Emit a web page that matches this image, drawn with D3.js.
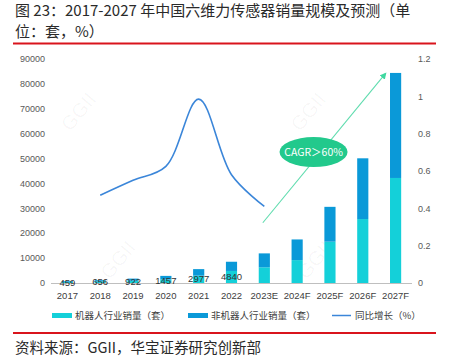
<!DOCTYPE html>
<html><head><meta charset="utf-8">
<script src="https://cdn.jsdelivr.net/npm/d3@7/dist/d3.min.js"></script>
<style>
body{margin:0;background:#fff;}
svg{display:block;}
</style></head>
<body><svg id="c" width="453" height="360"></svg>
<script>
const categories = ["2017","2018","2019","2020","2021","2022","2023E","2024F","2025F","2026F","2027F"];
const robotSales = [459,656,922,1457,2977,4840,6300,9200,16600,25700,42200];
const nonRobotSales = [310,480,840,1400,2600,3700,5600,8300,14000,24400,42200];
const growth = [null,0.47,0.55,0.625,0.985,0.58,0.41,null,null,null,null];
const robotLabels = ["459","656","922","1457","2977","4840"];
const leftTicks = [0,10000,20000,30000,40000,50000,60000,70000,80000,90000];
const rightTicks = [0,0.2,0.4,0.6,0.8,1,1.2];
const legendLabels = ["机器人行业销量（套）","非机器人行业销量（套）","同比增长（%）"];
const titleLines = ["图 23：2017-2027 年中国六维力传感器销量规模及预测（单","位：套，%）"];
const sourceText = "资料来源：GGII，华宝证券研究创新部";
const cagrText = "CAGR＞60%";

const cLight = "#14d0d9", cDark = "#0a99d8", cLine = "#3b86d9", cGreen = "#22c98c";
const numFont = "'Liberation Sans', Arial, 'Noto Sans CJK SC', sans-serif";
const cjkFont = "'Noto Sans CJK SC', 'Liberation Sans', sans-serif";

const svg = d3.select("#c");
const L = 51, R = 412, T = 59, B = 283;
const x = d3.scaleBand().domain(categories).range([L, R]).paddingInner(0.66).paddingOuter(0.33);
const y = d3.scaleLinear().domain([0, 90000]).range([B, T]);
const y2 = d3.scaleLinear().domain([0, 1.2]).range([B, T]);
const cx = c => x(c) + x.bandwidth() / 2;

// title
svg.append("g").selectAll("text").data(titleLines).join("text")
  .attr("x", 15).attr("y", (d, i) => 16 + i * 21)
  .attr("font-family", cjkFont).attr("font-size", 15).attr("fill", "#2a2a2a")
  .text(d => d);
svg.append("line").attr("x1", 13).attr("x2", 436).attr("y1", 43.5).attr("y2", 43.5)
  .attr("stroke", "#d9141c").attr("stroke-width", 2);
svg.append("line").attr("x1", 13).attr("x2", 436).attr("y1", 333).attr("y2", 333)
  .attr("stroke", "#d9141c").attr("stroke-width", 2);
svg.append("text").attr("x", 15).attr("y", 353)
  .attr("font-family", cjkFont).attr("font-size", 14.5).attr("fill", "#2a2a2a").text(sourceText);

// watermarks
const wm = [["2017",0.5,67000],["2025F",-0.5,67000],["2019",-0.3,7500],["2025F",-0.3,7500]];
svg.append("g").selectAll("text").data(wm).join("text")
  .attr("transform", d => `translate(${cx(d[0]) + d[1]*x.step()},${y(d[2])}) rotate(-50)`)
  .attr("text-anchor", "middle").attr("font-family", numFont).attr("font-size", 20)
  .attr("fill", "#000").attr("fill-opacity", 0.035).text("GGII");

// left axis labels
svg.append("g").selectAll("text").data(leftTicks).join("text")
  .attr("x", 45).attr("y", d => y(d) + 3.2).attr("text-anchor", "end")
  .attr("font-family", numFont).attr("font-size", 9).attr("fill", "#595959").text(d => d);
// right axis labels
svg.append("g").selectAll("text").data(rightTicks).join("text")
  .attr("x", 418).attr("y", d => y2(d) + 3.2).attr("text-anchor", "start")
  .attr("font-family", numFont).attr("font-size", 9).attr("fill", "#595959").text(d => d);

// bars
const stacked = categories.map((c, i) => ({c, r: robotSales[i], n: nonRobotSales[i]}));
const bars = svg.append("g");
bars.selectAll("rect.r").data(stacked).join("rect").attr("class","r")
  .attr("x", d => x(d.c)).attr("width", x.bandwidth())
  .attr("y", d => y(d.r)).attr("height", d => y(0) - y(d.r)).attr("fill", cLight);
bars.selectAll("rect.n").data(stacked).join("rect").attr("class","n")
  .attr("x", d => x(d.c)).attr("width", x.bandwidth())
  .attr("y", d => y(d.r + d.n)).attr("height", d => y(d.r) - y(d.r + d.n)).attr("fill", cDark);

// baseline
svg.append("line").attr("x1", L).attr("x2", R).attr("y1", B + 0.5).attr("y2", B + 0.5)
  .attr("stroke", "#bfbfbf").attr("stroke-width", 1);

// bar value labels
svg.append("g").selectAll("text").data(robotLabels).join("text")
  .attr("x", (d, i) => cx(categories[i])).attr("y", (d, i) => (y(robotSales[i]) + y(0)) / 2 + 3.2)
  .attr("text-anchor", "middle").attr("font-family", numFont).attr("font-size", 9.5)
  .attr("fill", "#333").text(d => d);

// x labels
svg.append("g").selectAll("text").data(categories).join("text")
  .attr("x", d => cx(d)).attr("y", 299).attr("text-anchor", "middle")
  .attr("font-family", numFont).attr("font-size", 9.5).attr("fill", "#404040").text(d => d);

// growth line
const gData = categories.map((c, i) => ({c, v: growth[i]})).filter(d => d.v !== null);
svg.append("path").datum(gData)
  .attr("d", d3.line().x(d => cx(d.c)).y(d => y2(d.v)).curve(d3.curveCatmullRom.alpha(0.5)))
  .attr("fill", "none").attr("stroke", cLine).attr("stroke-width", 1.6);

// CAGR arrow
const defs = svg.append("defs");
defs.append("marker").attr("id", "ah").attr("viewBox", "0 0 10 10").attr("refX", 8).attr("refY", 5)
  .attr("markerWidth", 6).attr("markerHeight", 6).attr("orient", "auto")
  .append("path").attr("d", "M0,0 L10,5 L0,10 z").attr("fill", "#3fd8a0");
svg.append("line")
  .attr("x1", cx("2023E") - 1.5).attr("y1", y(24200))
  .attr("x2", cx("2027F") - 10).attr("y2", y(84200))
  .attr("stroke", "#5fdcae").attr("stroke-width", 1.1).attr("marker-end", "url(#ah)");
const ex = (cx("2024F") + cx("2025F")) / 2, ey = y(52600);
svg.append("ellipse").attr("cx", ex).attr("cy", ey).attr("rx", 34).attr("ry", 15).attr("fill", cGreen);
svg.append("text").attr("x", ex).attr("y", ey + 3.8).attr("text-anchor", "middle")
  .attr("font-family", cjkFont).attr("font-size", 10.5).attr("fill", "#fff").text(cagrText);

// legend
const lg = svg.append("g");
const ly = 315.5;
lg.append("rect").attr("x", 52).attr("y", ly - 2.5).attr("width", 20).attr("height", 5).attr("fill", cLight);
lg.append("rect").attr("x", 188).attr("y", ly - 2.5).attr("width", 20).attr("height", 5).attr("fill", cDark);
lg.append("line").attr("x1", 332).attr("x2", 351).attr("y1", ly).attr("y2", ly).attr("stroke", cLine).attr("stroke-width", 1.5);
lg.selectAll("text").data(legendLabels).join("text")
  .attr("x", (d, i) => [75, 211, 355][i]).attr("y", ly + 3.5)
  .attr("font-family", cjkFont).attr("font-size", 9.5).attr("fill", "#404040").text(d => d);
</script></body></html>
